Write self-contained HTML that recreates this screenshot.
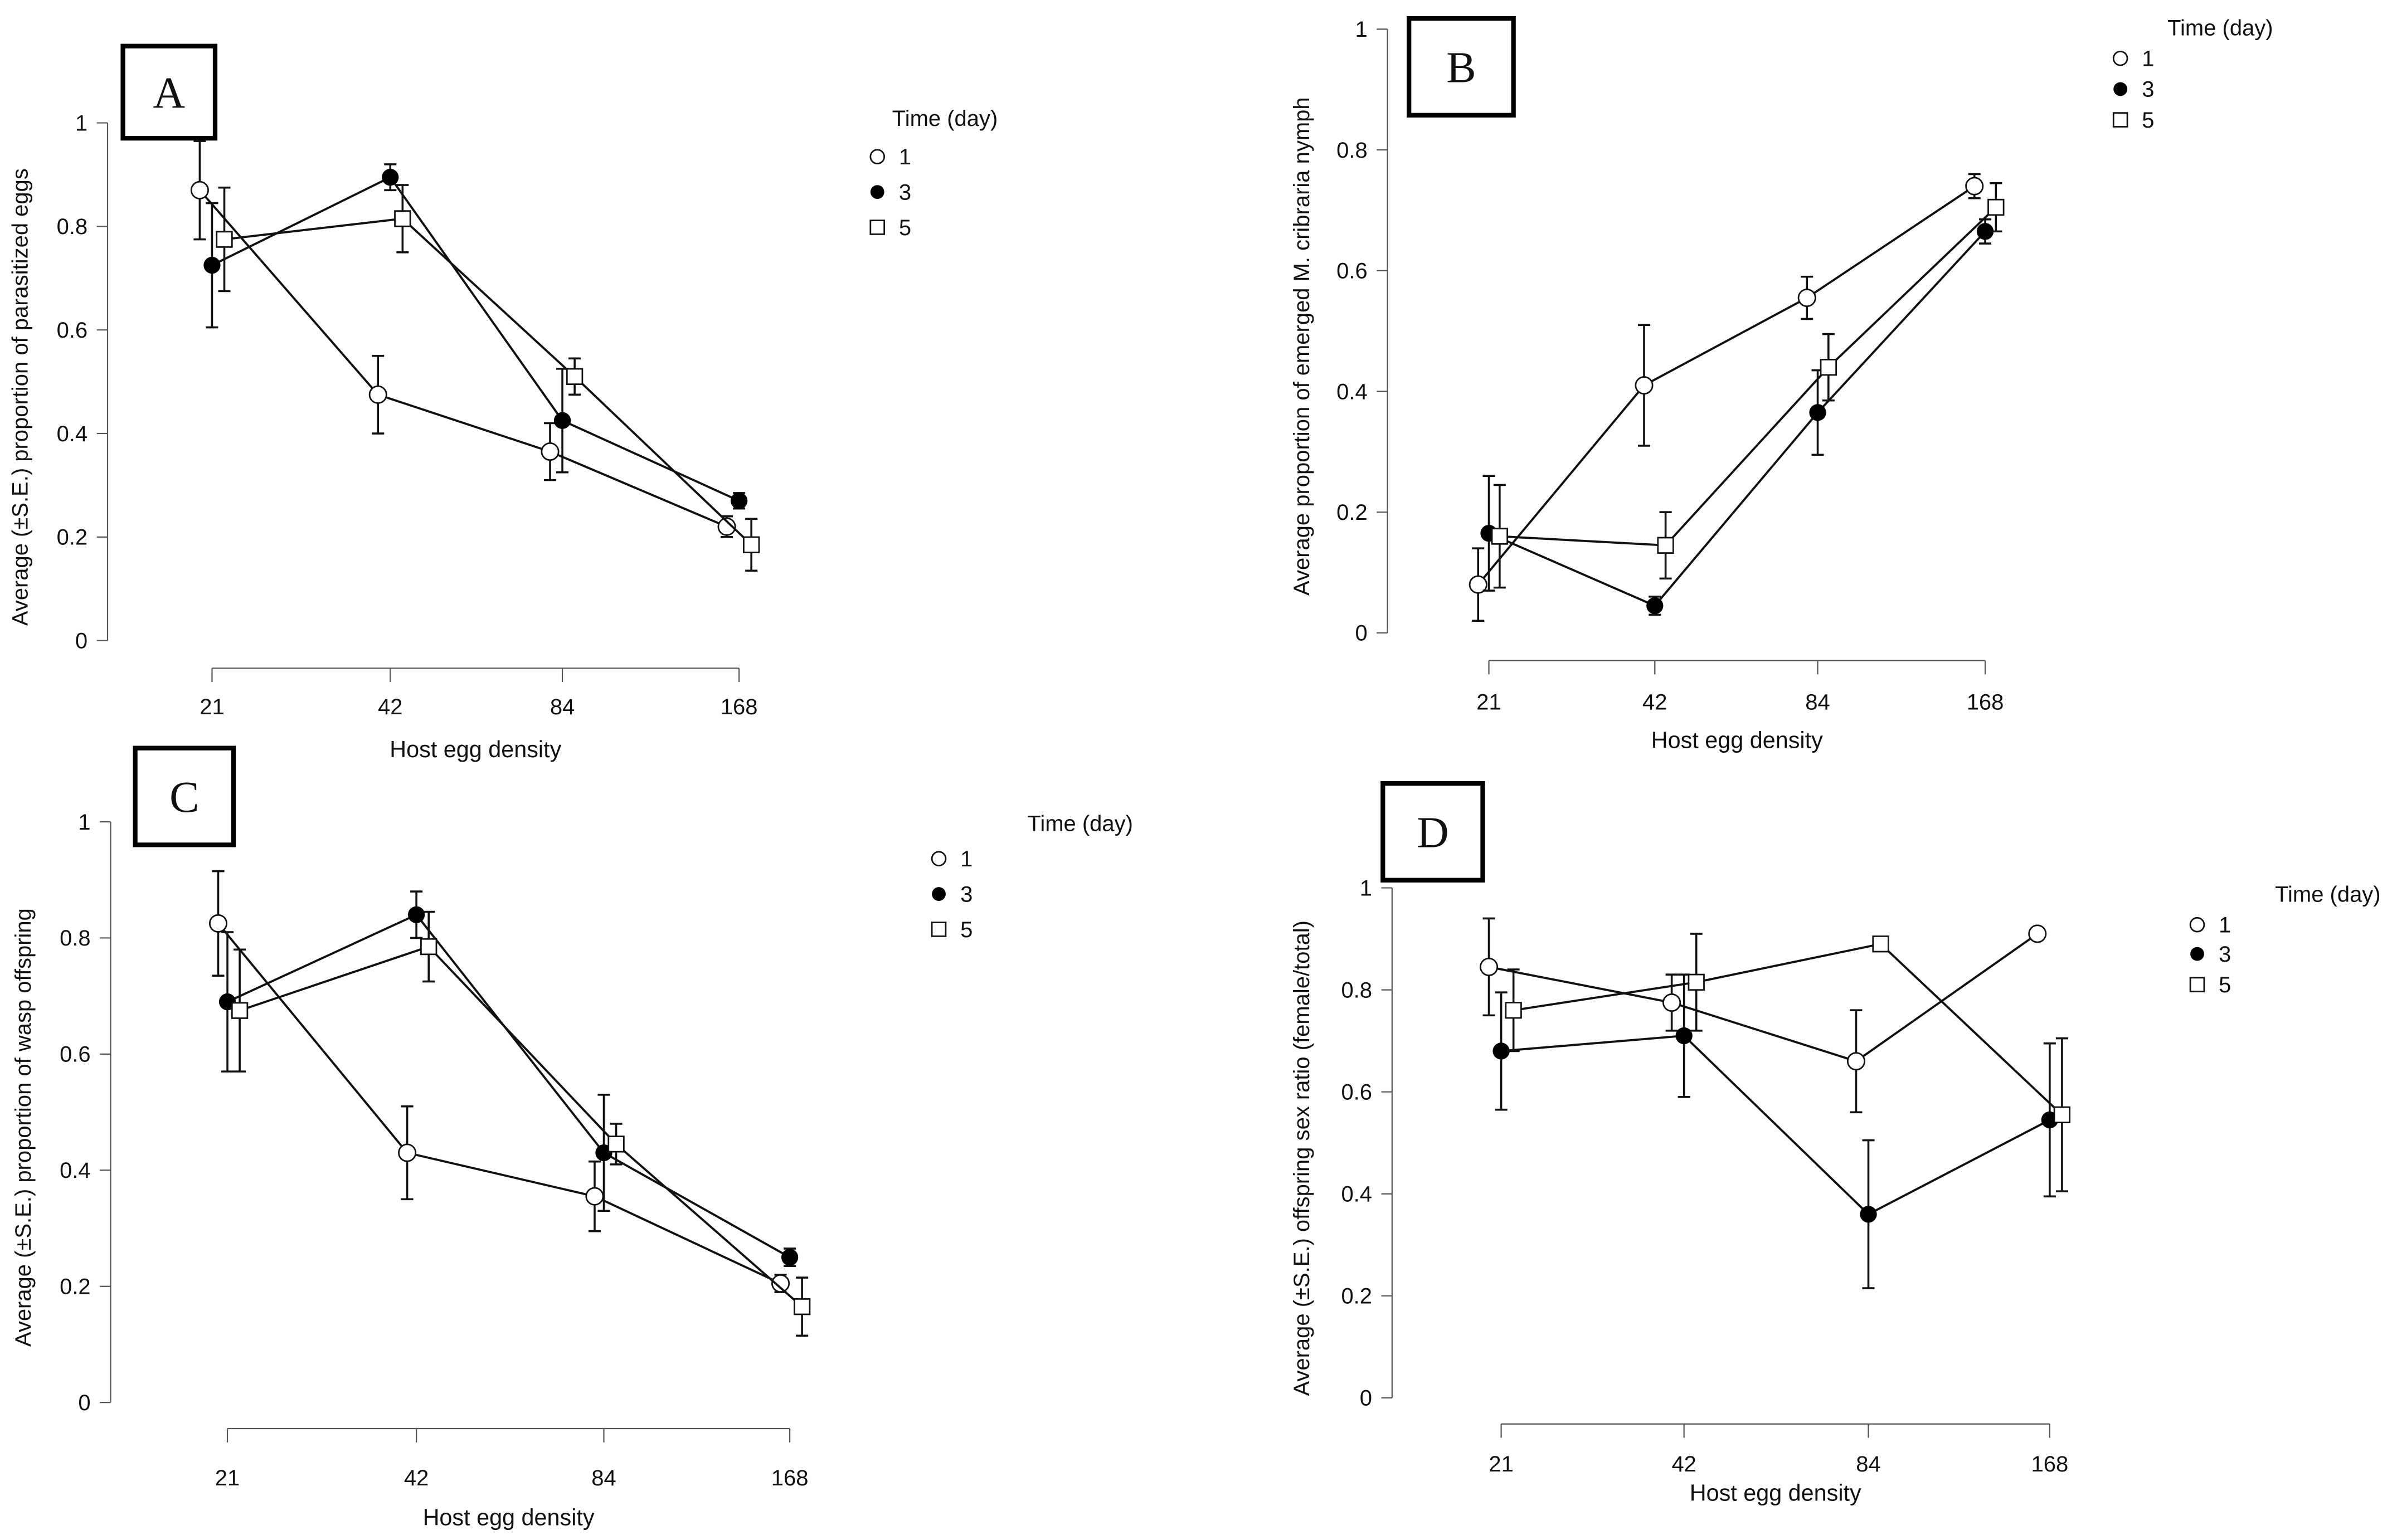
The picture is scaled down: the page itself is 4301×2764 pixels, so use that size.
<!DOCTYPE html>
<html><head><meta charset="utf-8"><style>
html,body{margin:0;padding:0;background:#fff}
svg{display:block}
text{font-family:"Liberation Sans",Arial,sans-serif;fill:#111}
</style></head><body>
<svg id="chart" width="4301" height="2764" viewBox="0 0 4301 2764">
<g id="root" transform="scale(2.757)"></g>
</svg>
<script>
const categories = ["21","42","84","168"];
const yTickLabels = ["0","0.2","0.4","0.6","0.8","1"];
const seriesNames = ["1","3","5"];
// Panel A
const aDay1 = [0.87,0.475,0.365,0.22];
const aDay3 = [0.725,0.895,0.425,0.27];
const aDay5 = [0.775,0.815,0.51,0.185];
const aErr1 = [0.095,0.075,0.055,0.02];
const aErr3 = [0.12,0.025,0.1,0.015];
const aErr5 = [0.1,0.065,0.035,0.05];
// Panel B
const bDay1 = [0.08,0.41,0.555,0.74];
const bDay3 = [0.165,0.045,0.365,0.665];
const bDay5 = [0.16,0.145,0.44,0.705];
const bErr1 = [0.06,0.1,0.035,0.02];
const bErr3 = [0.095,0.015,0.07,0.02];
const bErr5 = [0.085,0.055,0.055,0.04];
// Panel C
const cDay1 = [0.825,0.43,0.355,0.205];
const cDay3 = [0.69,0.84,0.43,0.25];
const cDay5 = [0.675,0.785,0.445,0.165];
const cErr1 = [0.09,0.08,0.06,0.015];
const cErr3 = [0.12,0.04,0.1,0.015];
const cErr5 = [0.105,0.06,0.035,0.05];
// Panel D
const dDay1 = [0.845,0.775,0.66,0.91];
const dDay3 = [0.68,0.71,0.36,0.545];
const dDay5 = [0.76,0.815,0.89,0.555];
const dErr1 = [0.095,0.055,0.1,0.01];
const dErr3 = [0.115,0.12,0.145,0.15];
const dErr5 = [0.08,0.095,0.01,0.15];

const NS="http://www.w3.org/2000/svg";
const root=document.getElementById('root');
function el(tag,attrs,parent,txt){const e=document.createElementNS(NS,tag);for(const k in attrs)e.setAttribute(k,attrs[k]);if(txt!==undefined)e.textContent=txt;(parent||root).appendChild(e);return e;}

const panels=[
 {id:'a',label:'A',ax:70,y0:417,y1:80,xy:435,xs:[138,254,366,481],off:[-8,0,8],lblY:460,titleY:493,ytitle:'Average (±S.E.) proportion of parasitized eggs',ytx:18,box:[80,30,60,60],leg:[615,77,571,[102,125,148]],
  d:[aDay1,aDay3,aDay5],e:[aErr1,aErr3,aErr5]},
 {id:'b',label:'B',ax:903,y0:412,y1:19,xy:430,xs:[969,1077,1183,1292],off:[-7,0,7],lblY:457,titleY:487,ytitle:'Average proportion of emerged M. cribraria nymph',ytx:852,box:[917,12,68,63],leg:[1445,18,1380,[38,58,78]],
  d:[bDay1,bDay3,bDay5],e:[bErr1,bErr3,bErr5]},
 {id:'c',label:'C',ax:72,y0:913,y1:535,xy:930,xs:[148,271,393,514],off:[-6,0,8],lblY:962,titleY:993,ytitle:'Average (±S.E.) proportion of wasp offspring',ytx:20,box:[88,487,64,63],leg:[703,536,611,[559,582,605]],
  d:[cDay1,cDay3,cDay5],e:[cErr1,cErr3,cErr5]},
 {id:'d',label:'D',ax:906,y0:910,y1:578,xy:927,xs:[977,1096,1216,1334],off:[-8,0,8],lblY:953,titleY:977,ytitle:'Average (±S.E.) offspring sex ratio (female/total)',ytx:852,box:[900,510,65,63],leg:[1515,582,1430,[602,621,641]],
  d:[dDay1,dDay3,dDay5],e:[dErr1,dErr3,dErr5]}
];

panels.forEach(p=>{
 const g=el('g',{});
 
 
 const ys=v=>p.y0-(p.y0-p.y1)*v;
 const ya=el('line',{x1:p.ax,y1:p.y1,x2:p.ax,y2:p.y0,stroke:'#555','stroke-width':0.8},g);
 
 yTickLabels.forEach(t=>{const v=parseFloat(t);
  el('line',{x1:p.ax-7,y1:ys(v),x2:p.ax,y2:ys(v),stroke:'#555','stroke-width':0.8},g);
  const tl=el('text',{x:p.ax-13,y:ys(v)+5,'font-size':14.5,'text-anchor':'end'},g,t);
  
 });
 const yt=el('text',{x:0,y:0,'font-size':14.5,'text-anchor':'middle',transform:`translate(${p.ytx},${(p.y0+p.y1)/2+10}) rotate(-90)`},g,p.ytitle);
 
 const xa=el('line',{x1:p.xs[0],y1:p.xy,x2:p.xs[3],y2:p.xy,stroke:'#555','stroke-width':0.8},g);
 
 categories.forEach((c,i)=>{
  el('line',{x1:p.xs[i],y1:p.xy,x2:p.xs[i],y2:p.xy+9,stroke:'#555','stroke-width':0.8},g);
  const tl=el('text',{x:p.xs[i],y:p.lblY+5,'font-size':14.5,'text-anchor':'middle'},g,c);
  
 });
 const xt=el('text',{x:(p.xs[0]+p.xs[3])/2,y:p.titleY,'font-size':15,'text-anchor':'middle'},g,'Host egg density');
 
 const bx=el('rect',{x:p.box[0],y:p.box[1],width:p.box[2],height:p.box[3],fill:'#fff',stroke:'#000','stroke-width':3},g);
 
 const bt=el('text',{x:p.box[0]+p.box[2]/2,y:p.box[1]+p.box[3]/2+10,'font-size':29,'text-anchor':'middle',style:'font-family:"Liberation Serif",serif'},g,p.label);
 
 p.d.forEach((vals,si)=>{
  const sg=el('g',{},g);
  
  const pts=vals.map((v,i)=>[p.xs[i]+p.off[si],ys(v)]);
  const ln=el('polyline',{points:pts.map(q=>q.join(',')).join(' '),fill:'none',stroke:'#111','stroke-width':1.4},sg);
  
  vals.forEach((v,i)=>{
   const x=pts[i][0],e=p.e[si][i];
   const eb=el('path',{d:`M${x},${ys(v+e)}V${ys(v-e)}M${x-4},${ys(v+e)}h8M${x-4},${ys(v-e)}h8`,stroke:'#111','stroke-width':1.3,fill:'none'},sg);
   
   let m;
   if(si===0) m=el('circle',{cx:x,cy:ys(v),r:5.5,fill:'#fff',stroke:'#111','stroke-width':1},sg);
   else if(si===1) m=el('circle',{cx:x,cy:ys(v),r:5.5,fill:'#000'},sg);
   else m=el('rect',{x:x-5,y:ys(v)-5,width:10,height:10,fill:'#fff',stroke:'#111','stroke-width':1},sg);
   
  });
 });
 const lg=el('g',{},g);
 
 const lt=el('text',{x:p.leg[0],y:p.leg[1]+5,'font-size':14.5,'text-anchor':'middle'},lg,'Time (day)');
 
 seriesNames.forEach((s,si)=>{
  const y=p.leg[3][si],x=p.leg[2];
  let m;
  if(si===0) m=el('circle',{cx:x,cy:y,r:4.5,fill:'#fff',stroke:'#111','stroke-width':1},lg);
  else if(si===1) m=el('circle',{cx:x,cy:y,r:4.5,fill:'#000'},lg);
  else m=el('rect',{x:x-4.5,y:y-4.5,width:9,height:9,fill:'#fff',stroke:'#111','stroke-width':1},lg);
  
  const t=el('text',{x:x+14,y:y+5,'font-size':14.5},lg,s);
  
 });
});
</script>
</body></html>
